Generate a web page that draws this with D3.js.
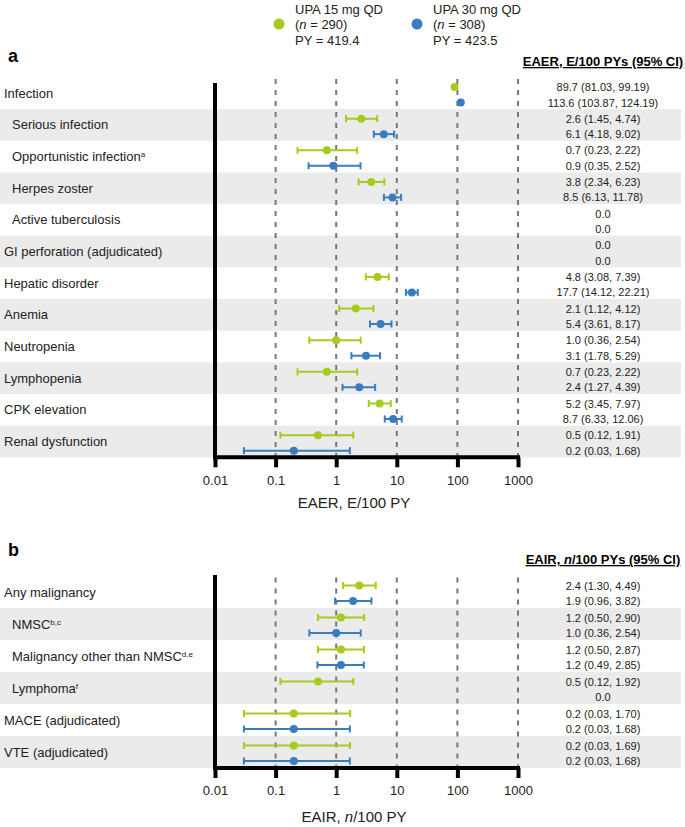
<!DOCTYPE html>
<html><head><meta charset="utf-8">
<script src="https://cdn.jsdelivr.net/npm/d3@7/dist/d3.min.js"></script>
<style>body{margin:0;background:#fff}svg{display:block;font-family:"Liberation Sans",Arial,sans-serif}</style>
</head><body><svg id="c" width="685" height="827"></svg>
<script>
// ---------- data ----------
const categoriesA = ["Infection","Serious infection","Opportunistic infection","Herpes zoster","Active tuberculosis","GI perforation (adjudicated)","Hepatic disorder","Anemia","Neutropenia","Lymphopenia","CPK elevation","Renal dysfunction"];
const supA = ["","","a","","","","","","","","",""];
const indentA = [0,1,1,1,1,0,0,0,0,0,0,0];
const upa15A = [89.7,2.6,0.7,3.8,0,0,4.8,2.1,1.0,0.7,5.2,0.5];
const lo15A  = [81.03,1.45,0.23,2.34,null,null,3.08,1.12,0.36,0.23,3.45,0.12];
const hi15A  = [99.19,4.74,2.22,6.23,null,null,7.39,4.12,2.54,2.22,7.97,1.91];
const upa30A = [113.6,6.1,0.9,8.5,0,0,17.7,5.4,3.1,2.4,8.7,0.2];
const lo30A  = [103.87,4.18,0.35,6.13,null,null,14.12,3.61,1.78,1.27,6.33,0.03];
const hi30A  = [124.19,9.02,2.52,11.78,null,null,22.21,8.17,5.29,4.39,12.06,1.68];

const categoriesB = ["Any malignancy","NMSC","Malignancy other than NMSC","Lymphoma","MACE (adjudicated)","VTE (adjudicated)"];
const supB = ["","b,c","d,e","f","",""];
const indentB = [0,1,1,1,0,0];
const upa15B = [2.4,1.2,1.2,0.5,0.2,0.2];
const lo15B  = [1.30,0.50,0.50,0.12,0.03,0.03];
const hi15B  = [4.49,2.90,2.87,1.92,1.70,1.69];
const upa30B = [1.9,1.0,1.2,0,0.2,0.2];
const lo30B  = [0.96,0.36,0.49,null,0.03,0.03];
const hi30B  = [3.82,2.54,2.85,null,1.68,1.68];

const tickValues = [0.01,0.1,1,10,100,1000];
const tickLabels = ["0.01","0.1","1","10","100","1000"];
const seriesNames = ["UPA 15 mg QD","UPA 30 mg QD"];
const seriesN = [290,308];
const seriesPY = [419.4,423.5];

// ---------- style ----------
const GREEN = "#a5cb1c", BLUE = "#3a7cc0", SHADE = "#ebebeb", DASH = "#777";
const svg = d3.select("#c");
const x = d3.scaleLog().domain([0.01,1000]).range([215,518]);

// legend
const legX = [279,417];
[GREEN,BLUE].forEach((col,i)=>{
  svg.append("circle").attr("cx",legX[i]).attr("cy",24).attr("r",5.5).attr("fill",col);
  const t = svg.append("text").attr("x",legX[i]+16).attr("font-size",13).attr("fill","#222");
  t.append("tspan").attr("x",legX[i]+16).attr("y",13.5).text(seriesNames[i]);
  t.append("tspan").attr("x",legX[i]+16).attr("y",29).text("(");
  t.append("tspan").attr("font-style","italic").text("n");
  t.append("tspan").text(" = "+seriesN[i]+")");
  t.append("tspan").attr("x",legX[i]+16).attr("y",44.5).text("PY = "+seriesPY[i]);
});

function fmt(v,lo,hi){ return lo==null ? v.toFixed(1) : v.toFixed(1)+" ("+lo.toFixed(2)+", "+hi.toFixed(2)+")"; }

function panel(o){
  const g = svg.append("g");
  const n = o.cats.length;
  const y = d3.scaleBand().domain(d3.range(n)).range([o.top, o.top + n*o.rowH]);
  const bottom = o.top + n*o.rowH;
  g.append("text").attr("x",8).attr("y",o.letterY).attr("font-size",18).attr("font-weight","bold").text(o.letter);
  const h = g.append("text").attr("x",603).attr("y",o.headerY).attr("text-anchor","middle")
    .attr("font-size",13).attr("font-weight","bold").style("text-decoration","underline");
  o.header(h);
  g.selectAll("rect.sh").data(d3.range(n).filter(i=>i%2===1)).join("rect")
    .attr("x",0).attr("width",681).attr("y",i=>y(i)).attr("height",y.bandwidth()).attr("fill",SHADE);
  g.selectAll("line.ref").data(tickValues.slice(1)).join("line")
    .attr("x1",d=>x(d)).attr("x2",d=>x(d)).attr("y1",o.top+1.5).attr("y2",bottom)
    .attr("stroke",DASH).attr("stroke-width",2).attr("stroke-dasharray","5,6");
  o.cats.forEach((c,i)=>{
    const t = g.append("text").attr("x",o.indent[i]?12:4).attr("y",y(i)+y.bandwidth()/2+4.5)
      .attr("font-size",13).attr("fill","#222").text(c);
    if(o.sup[i]) t.append("tspan").attr("font-size",8).attr("dy",-4).text(o.sup[i]);
  });
  const series = [
    {v:o.v15,lo:o.lo15,hi:o.hi15,col:GREEN,dy:9.5},
    {v:o.v30,lo:o.lo30,hi:o.hi30,col:BLUE,dy:25}
  ];
  series.forEach(s=>{
    d3.range(n).forEach(i=>{
      const cy = y(i)+s.dy;
      g.append("text").attr("x",603).attr("y",cy+4).attr("text-anchor","middle")
        .attr("font-size",11).attr("fill","#222").text(fmt(s.v[i],s.lo[i],s.hi[i]));
      if(s.lo[i]==null || s.v[i]<=0) return;
      if(x(s.hi[i])-x(s.lo[i]) > 9){
        g.append("line").attr("x1",x(s.lo[i])).attr("x2",x(s.hi[i])).attr("y1",cy).attr("y2",cy)
          .attr("stroke",s.col).attr("stroke-width",2);
        [s.lo[i],s.hi[i]].forEach(e=>g.append("line").attr("x1",x(e)).attr("x2",x(e))
          .attr("y1",cy-3.5).attr("y2",cy+3.5).attr("stroke",s.col).attr("stroke-width",2));
      }
      g.append("circle").attr("cx",x(s.v[i])).attr("cy",cy).attr("r",4).attr("fill",s.col);
    });
  });
  g.append("line").attr("x1",215).attr("x2",215).attr("y1",o.axisTop).attr("y2",bottom+2)
    .attr("stroke","#000").attr("stroke-width",4);
  const ax = g.append("g").attr("transform","translate(0,"+bottom+")")
    .call(d3.axisBottom(x).tickValues(tickValues).tickFormat((d,i)=>tickLabels[i]).tickSizeOuter(0).tickSize(10).tickPadding(8));
  ax.select(".domain").attr("stroke","#000").attr("stroke-width",4).attr("d","M213,0H520");
  ax.selectAll(".tick line").attr("stroke","#000").attr("stroke-width",4);
  ax.selectAll(".tick text").attr("font-size",13).attr("fill","#222").attr("font-family","Liberation Sans, Arial, sans-serif");
  const tt = g.append("text").attr("x",354).attr("y",bottom+o.titleDy).attr("text-anchor","middle")
    .attr("font-size",15).attr("fill","#222");
  o.title(tt);
}

panel({letter:"a",letterY:62,headerY:66,top:77.5,rowH:31.65,axisTop:83,titleDy:51,
  cats:categoriesA,sup:supA,indent:indentA,v15:upa15A,lo15:lo15A,hi15:hi15A,v30:upa30A,lo30:lo30A,hi30:hi30A,
  header:h=>h.text("EAER, E/100 PYs (95% CI)"),
  title:t=>t.text("EAER, E/100 PY")});
panel({letter:"b",letterY:556,headerY:564,top:576,rowH:32,axisTop:575,titleDy:54,
  cats:categoriesB,sup:supB,indent:indentB,v15:upa15B,lo15:lo15B,hi15:hi15B,v30:upa30B,lo30:lo30B,hi30:hi30B,
  header:h=>{h.append("tspan").text("EAIR, ");h.append("tspan").attr("font-style","italic").text("n");h.append("tspan").text("/100 PYs (95% CI)");},
  title:t=>{t.append("tspan").text("EAIR, ");t.append("tspan").attr("font-style","italic").text("n");t.append("tspan").text("/100 PY");}});
</script></body></html>
